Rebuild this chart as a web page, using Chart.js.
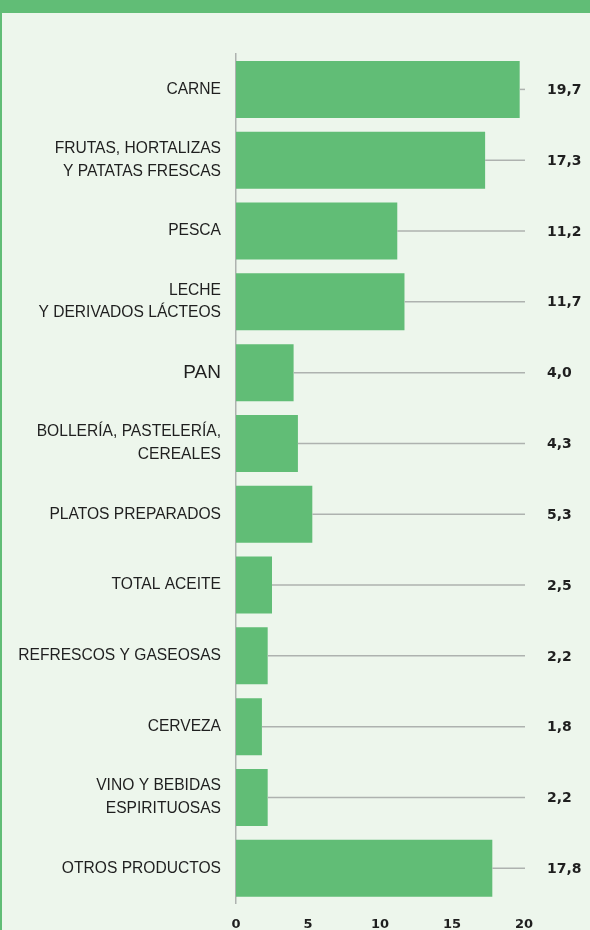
<!DOCTYPE html>
<html>
<head>
<meta charset="utf-8">
<script src="https://cdn.jsdelivr.net/npm/chart.js@4.4.1/dist/chart.umd.min.js"></script>
<style>
  html, body { margin: 0; padding: 0; }
  body { width: 590px; height: 930px; background: #edf6ec; position: relative; overflow: hidden; }
  #band { position: absolute; left: 0; top: 0; width: 590px; height: 13px; background: #61bd76; }
  #edge { position: absolute; left: 0; top: 0; width: 2px; height: 930px; background: #61bd76; }
  #wrap { position: absolute; left: 0; top: 0; width: 590px; height: 930px; }
</style>
</head>
<body>
<div id="band"></div>
<div id="edge"></div>
<div id="wrap"><canvas id="gasto" width="590" height="930"></canvas></div>
<script>
var categorias = [
  "CARNE",
  ["FRUTAS, HORTALIZAS", "Y PATATAS FRESCAS"],
  "PESCA",
  ["LECHE", "Y DERIVADOS LÁCTEOS"],
  "PAN",
  ["BOLLERÍA, PASTELERÍA,", "CEREALES"],
  "PLATOS PREPARADOS",
  "TOTAL ACEITE",
  "REFRESCOS Y GASEOSAS",
  "CERVEZA",
  ["VINO Y BEBIDAS", "ESPIRITUOSAS"],
  "OTROS PRODUCTOS"
];
var porcentajes = [19.7, 17.3, 11.2, 11.7, 4.0, 4.3, 5.3, 2.5, 2.2, 1.8, 2.2, 17.8];
var ticksX = [0, 5, 10, 15, 20];

var verde = "#61bd76";
var gris = "#aeb2af";
var texto = "#1f1f1f";

// leader lines + value labels on the right
var etiquetas = {
  id: "etiquetas",
  afterDatasetsDraw: function(chart) {
    var ctx = chart.ctx;
    var xs = chart.scales.x;
    var meta = chart.getDatasetMeta(0);
    var fin = xs.getPixelForValue(ticksX[ticksX.length - 1]) + 1;
    ctx.save();
    meta.data.forEach(function(bar, i) {
      var y = bar.y;
      ctx.strokeStyle = gris;
      ctx.lineWidth = 1.5;
      ctx.beginPath();
      ctx.moveTo(bar.x, y);
      ctx.lineTo(fin, y);
      ctx.stroke();
      ctx.fillStyle = texto;
      ctx.font = "bold 14px 'DejaVu Sans', sans-serif";
      ctx.textAlign = "left";
      ctx.textBaseline = "middle";
      ctx.fillText(porcentajes[i].toFixed(1).replace(".", ","), fin + 22, y + 1);
    });
    ctx.restore();
  }
};

var chart = new Chart(document.getElementById("gasto"), {
  type: "bar",
  data: {
    labels: categorias,
    datasets: [{
      data: porcentajes,
      backgroundColor: verde,
      borderWidth: 0,
      barPercentage: 0.805,
      categoryPercentage: 1
    }]
  },
  options: {
    indexAxis: "y",
    responsive: false,
    animation: false,
    devicePixelRatio: 1,
    layout: { padding: { top: 54, right: 66, left: 0, bottom: 0 } },
    plugins: { legend: { display: false }, tooltip: { enabled: false } },
    scales: {
      x: {
        min: 0, max: 20,
        afterBuildTicks: function(s) { s.ticks = ticksX.map(function(v) { return { value: v }; }); },
        afterFit: function(s) { s.height = 26; },
        grid: { display: false },
        border: { display: false },
        ticks: {
          color: texto,
          padding: 5,
          font: { family: "'DejaVu Sans', sans-serif", weight: "bold", size: 13 }
        }
      },
      y: {
        afterFit: function(s) { s.width = 236; },
        grid: { display: false, drawTicks: false },
        border: { display: true, color: gris, width: 1.5 },
        ticks: {
          color: texto,
          padding: 15,
          font: function(c) {
            return {
              family: "'Liberation Sans', Arial, sans-serif",
              size: c.index === 4 ? 19 : 15.6,
              lineHeight: 1.45
            };
          }
        }
      }
    }
  },
  plugins: [etiquetas]
});
</script>
</body>
</html>
